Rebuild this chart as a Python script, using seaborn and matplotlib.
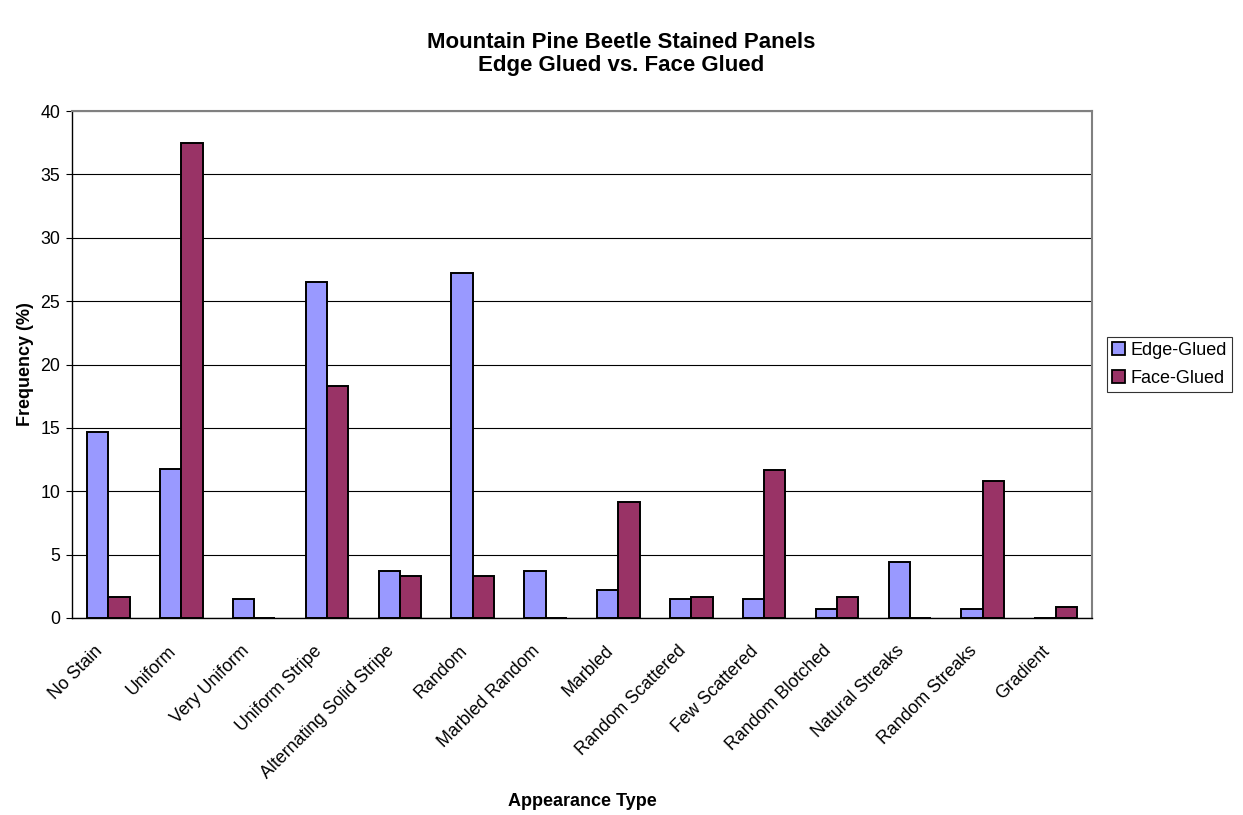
import numpy as np
import pandas as pd
import matplotlib.pyplot as plt
import matplotlib.transforms as mtransforms
import seaborn as sns

# appearance categories and frequency (%) per panel type
categories = ['No Stain', 'Uniform', 'Very Uniform', 'Uniform Stripe',
              'Alternating Solid Stripe', 'Random', 'Marbled Random', 'Marbled',
              'Random Scattered', 'Few Scattered', 'Random Blotched',
              'Natural Streaks', 'Random Streaks', 'Gradient']
edge_glued = [14.71, 11.76, 1.47, 26.47, 3.68, 27.21, 3.68, 2.21,
              1.47, 1.47, 0.74, 4.41, 0.74, 0.0]
face_glued = [1.67, 37.5, 0.0, 18.33, 3.33, 3.33, 0.0, 9.17,
              1.67, 11.67, 1.67, 0.0, 10.83, 0.83]
series = ['Edge-Glued', 'Face-Glued']
colors = ['#9999FF', '#993366']

df = pd.DataFrame({
    'Appearance Type': categories * 2,
    'Frequency': edge_glued + face_glued,
    'Panel': [series[0]] * len(categories) + [series[1]] * len(categories),
})

sns.set_style('white')
plt.rcParams['font.family'] = ['Liberation Sans', 'DejaVu Sans']
plt.rcParams.update({'text.color': 'black', 'axes.labelcolor': 'black',
                     'xtick.color': 'black', 'ytick.color': 'black'})

fig = plt.figure(figsize=(12.43, 8.15), dpi=100)
ax = fig.add_axes([72/1243, 1 - 618/815, (1092-72)/1243, (618-111)/815])

sns.barplot(data=df, x='Appearance Type', y='Frequency', hue='Panel',
            palette=colors, width=0.585, saturation=1,
            edgecolor='black', linewidth=1.4, ax=ax, zorder=3)

ax.set_xlim(-0.5, len(categories) - 0.5)
ax.set_ylim(0, 40)
ax.set_yticks(np.arange(0, 41, 5))
ax.yaxis.grid(True, color='black', linewidth=0.8, zorder=0)
ax.set_axisbelow(True)

# x ticks: labels at centres, tick marks between categories
ax.set_xticks(np.arange(len(categories)))
ax.set_xticklabels(categories, rotation=45, ha='right', rotation_mode='anchor')
ax.set_xticks(np.arange(-0.5, len(categories), 1), minor=True)
ax.tick_params(axis='x', which='major', length=0, pad=14, labelsize=12.8)
ax.tick_params(axis='x', which='minor', length=4.5, width=0.8, direction='out')
ax.tick_params(axis='y', length=4.5, width=0.8, direction='out', pad=4, labelsize=12.8)
ax.tick_params(axis='both', bottom=True, left=True)
shift = mtransforms.ScaledTranslation(-14/100, -5/100, fig.dpi_scale_trans)
for lbl in ax.get_xticklabels():
    lbl.set_transform(lbl.get_transform() + shift)

for side in ['left', 'bottom']:
    ax.spines[side].set_color('black')
    ax.spines[side].set_linewidth(1.0)
for side in ['top', 'right']:
    ax.spines[side].set_color('#808080')
    ax.spines[side].set_linewidth(1.5)

ax.set_xlabel('')
ax.set_ylabel('')
fig.text(582/1243, 1 - 801/815, 'Appearance Type', ha='center', va='center',
         fontsize=13, fontweight='bold')
fig.text(26/1243, 1 - 364/815, 'Frequency (%)', ha='center', va='center',
         rotation=90, fontsize=13, fontweight='bold')
fig.text(621/1243, 1 - 43/815, 'Mountain Pine Beetle Stained Panels', ha='center',
         va='center', fontsize=16, fontweight='bold')
fig.text(621/1243, 1 - 66/815, 'Edge Glued vs. Face Glued', ha='center',
         va='center', fontsize=16, fontweight='bold')

ax.legend_.remove()
handles = [plt.Rectangle((0, 0), 1, 1, facecolor=c, edgecolor='black', linewidth=1.3)
           for c in colors]
leg = fig.legend(handles, series, loc='center left',
                 bbox_to_anchor=(1107/1243, 1 - 364.5/815), fontsize=13,
                 frameon=True, fancybox=False, edgecolor='black',
                 handlelength=0.7, handleheight=0.7, handletextpad=0.3,
                 borderpad=0.3, labelspacing=0.6, borderaxespad=0)
leg.get_frame().set_linewidth(0.8)

fig.savefig('out.png', dpi=100)
